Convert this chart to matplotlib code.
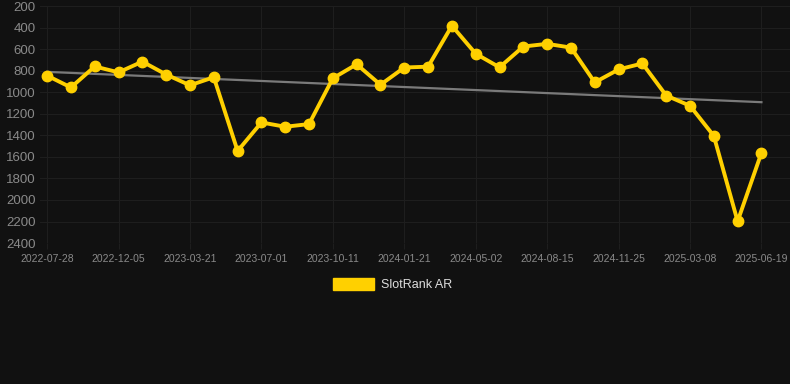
import numpy as np
import matplotlib
matplotlib.use("Agg")
import matplotlib.pyplot as plt

plt.rcParams['font.family'] = ['Liberation Sans', 'DejaVu Sans']

# Data (rank, lower is better)
tick_labels = ["2022-07-28", "2022-12-05", "2023-03-21", "2023-07-01", "2023-10-11",
               "2024-01-21", "2024-05-02", "2024-08-15", "2024-11-25", "2025-03-08",
               "2025-06-19"]
rank_values = [845, 955, 760, 815, 715, 835, 935, 860, 1545, 1280,
               1320, 1295, 870, 740, 930, 770, 762, 382, 642, 768,
               575, 550, 585, 908, 788, 732, 1030, 1125, 1405, 2198,
               1563]
series_name = "SlotRank AR"

BG = "#111111"
GRID = "#1e1e1e"
TICK = "#8a8a8a"
YELLOW = "#FFD000"

x = np.arange(len(rank_values))
slope, intercept = np.polyfit(x, rank_values, 1)
trend = slope * x + intercept

fig = plt.figure(figsize=(7.9, 3.84), dpi=100, facecolor=BG)
ax = fig.add_axes([0.0506, 0.367, 0.9494, 0.617], facecolor=BG)

ax.plot(x, trend, color="#7a7a7a", linewidth=1.6, zorder=2)
ax.plot(x, rank_values, color=YELLOW, linewidth=2.8, marker="o", markersize=7.5,
        markerfacecolor=YELLOW, markeredgecolor=YELLOW, zorder=3, label=series_name)

ax.set_ylim(2400, 200)
ax.set_yticks(np.arange(200, 2401, 200))
ax.set_xlim(-0.3, 31.2)
ax.set_xticks(x[::3])
ax.set_xticklabels(tick_labels)

ax.grid(True, color=GRID, linewidth=0.8)
for s in ax.spines.values():
    s.set_visible(False)
ax.tick_params(axis="y", colors=TICK, labelsize=9.5, length=0, pad=3)
ax.tick_params(axis="x", colors=GRID, labelcolor=TICK, labelsize=7.5, length=4, pad=4)

handle = plt.Rectangle((0, 0), 1, 1, color=YELLOW)
fig.legend([handle], [series_name], loc="center", bbox_to_anchor=(0.497, 0.26),
           frameon=False, labelcolor="#dddddd", fontsize=9, handlelength=3.3,
           handleheight=1.1, handletextpad=0.6)

fig.savefig("out.png", dpi=100, facecolor=BG)
